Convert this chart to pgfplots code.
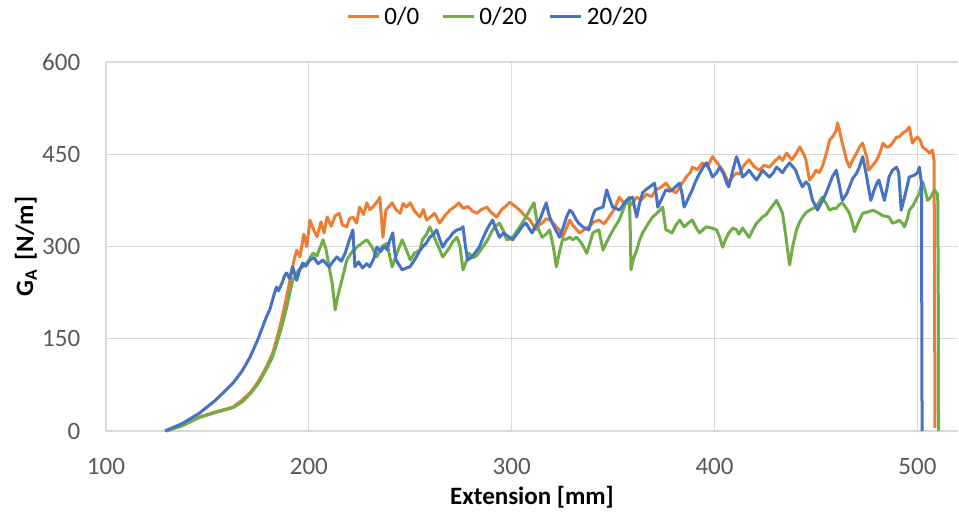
\documentclass[border=0pt]{standalone}
\usepackage{fontspec}
\setmainfont{Carlito}
\usepackage{pgfplots}
\pgfplotsset{compat=1.18}

\definecolor{cOrange}{HTML}{ED7D31}
\definecolor{cGreen}{HTML}{70AD47}
\definecolor{cBlue}{HTML}{4472C4}
\definecolor{gridgray}{HTML}{D9D9D9}
\definecolor{ticktext}{HTML}{595959}

\newcommand{\chartfont}{\fontsize{12.5}{15}\selectfont}

\begin{document}
\begin{tikzpicture}
\begin{axis}[
  scale only axis,
  width=426pt, height=184.5pt,
  xmin=100, xmax=520, ymin=0, ymax=600,
  xtick={100,200,...,500},
  ytick={0,150,...,600},
  grid=major,
  major grid style={color=gridgray, line width=0.6pt},
  axis line style={draw=none},
  major tick length=0pt,
  clip=false,
  /pgf/number format/assume math mode=true,
  tick label style={font=\chartfont, text=ticktext, inner sep=0pt},
  xticklabel style={anchor=north, yshift=-13.5pt},
  yticklabel style={anchor=east, xshift=-12.7pt},
  xlabel={\textbf{Extension [mm]}},
  ylabel={\textbf{G\textsubscript{A}\,\,[N/m]}},
  every axis x label/.style={at={(axis description cs:0.5,-0.179)}, anchor=center, font=\chartfont},
  every axis y label/.style={at={(axis description cs:-0.094,0.5)}, anchor=center, rotate=90, font=\chartfont},
  legend columns=-1,
  legend style={draw=none, fill=none, font=\chartfont,
    at={(axis description cs:0.461,1.122)}, anchor=center,
    /tikz/every even column/.append style={column sep=9pt},
    inner sep=0pt},
  legend image code/.code={\draw[#1, line width=1.5pt] (0pt,0pt) -- (15.5pt,0pt);},
  every axis plot/.append style={line width=1.5pt, line join=round},
]
\draw[color=gridgray, line width=0.75pt] (rel axis cs:0,0) -- (rel axis cs:1,0);

% 0/0
\addplot[color=cOrange] coordinates {
(130,0) (138,10) (146,23) (154,31) (162.6,39) (167,50) (171,62) (175,80) (179,104)
(182,125) (184,148) (186.5,180) (189,218) (191,250) (192.5,275) (194,294) (195.6,283)
(197.5,320) (199,300) (200.5,343) (202,330) (204,316) (206,340) (207.5,322) (209,348)
(211,333) (213,350) (215,354) (216.5,335) (218.7,332) (220,345) (221.7,348) (223.5,338)
(225,364) (227,352) (228.6,371) (230,360) (231.5,364) (233.5,372) (235,380) (236.5,315)
(238,359) (239.5,365) (241,371) (243,360) (245,354) (246.5,370) (248,364) (250,371)
(252,358) (254.7,348) (256.5,360) (258,343) (260,348) (262,354) (264.5,338) (267,350)
(269.5,359) (272,365) (274,371) (276,362) (278.5,365) (280.5,358) (282.8,354) (285,360)
(287.7,364) (290,355) (292.6,348) (295,360) (297,365) (299,372) (301.5,366) (304,359)
(306.5,350) (309,343) (312,327) (313.5,335) (315,338) (317,345) (318.7,343) (320.5,338)
(322,332) (324,325) (325,315) (327,330) (328.6,343) (330,335) (333.5,322) (336,328)
(338,332) (340.5,340) (343,343) (345.5,337) (348,348) (350.5,360) (353,380) (355,372)
(356.6,371) (359,368) (361.6,380) (364,376) (366.5,385) (369,381) (371,392) (373.5,396)
(376,403) (378.5,392) (381,387) (383.5,400) (386,413) (388,420) (389,429) (391.5,425)
(394,436) (396.5,430) (399,446) (401.5,435) (404,424) (406,410) (407,403) (409,414)
(410.8,419) (412.5,418) (413.8,429) (415.5,436) (417,441) (419.5,430) (422,424)
(424.5,432) (427,429) (429.5,438) (432,446) (433.5,440) (435.5,452) (438,441) (440,450)
(442,462) (444,450) (445,441) (446.8,408) (448.5,415) (450,424) (451.5,420) (453,429)
(455,450) (456.7,473) (458.5,480) (460,489) (460.6,501) (461.5,490) (462.6,473)
(464,455) (465,441) (466.5,429) (468,440) (470,452) (471.5,462) (473,468) (474,456)
(475,446) (476,424) (478,432) (480,441) (481.5,452) (483,468) (484.5,462) (486,462)
(487.7,468) (489.7,478) (491,478) (493,485) (494.5,488) (496,494) (497.5,468) (499,475)
(500,478) (501.5,472) (502.5,462) (504,458) (506,452) (507.4,457) (508.2,440)
(508.5,200) (508.6,5)
};
\addlegendentry{0/0}

% 0/20
\addplot[color=cGreen] coordinates {
(130,0) (138,9) (146,22) (154,30) (162.6,38) (167,47) (171,60) (175,77) (179,100)
(182,120) (184,140) (186.5,168) (189,200) (192,245) (195,262) (197,267) (199,273)
(202,289) (204,285) (207,311) (208.5,295) (210,267) (211.5,240) (213,197) (214,215)
(215,229) (217,255) (218.7,278) (221,290) (223.6,299) (226,305) (228.6,311) (231,300)
(233.5,283) (236,300) (238.5,305) (241,267) (243.5,290) (246,311) (248,295) (250,278)
(252,289) (254.7,294) (256,311) (258,320) (259.6,332) (261.5,318) (263,306) (264.5,295)
(266,283) (268,292) (269.5,299) (271,308) (273,315) (274.5,300) (276,262) (277.5,275)
(279,289) (281,282) (283,286) (285.7,299) (288,310) (290.6,327) (292,333) (294,338)
(296,325) (297.5,311) (299,312) (300.5,315) (302.5,325) (304,332) (305.5,340) (307,348)
(309,360) (311,371) (312,350) (312.8,332) (314,322) (315,315) (317,320) (318.7,327)
(320.5,300) (322,267) (323.5,290) (325,311) (327,312) (328.6,315) (330,311) (332,315)
(334.5,305) (337,289) (338.5,305) (340,322) (341.5,325) (343,327) (344,310) (345,294)
(346.5,305) (348,315) (350.5,330) (353,343) (355,360) (356.6,375) (358,380) (358.5,320)
(358.8,262) (360,280) (361.6,294) (363,310) (364.5,322) (367,336) (369.5,348)
(371.5,354) (373,359) (374.4,364) (375.2,345) (376,327) (377.5,325) (379,322) (381,335)
(382.8,343) (385,332) (387,338) (389,343) (391,330) (392.6,322) (394.5,328) (396,332)
(398.5,330) (401,327) (402.5,315) (404,299) (405.5,312) (407,322) (409,330) (410.8,327)
(412,320) (413.8,330) (415.5,322) (417,315) (419,328) (420.7,338) (422,342) (423.6,348)
(425.5,352) (427,359) (429,368) (430.5,375) (432,365) (433.5,354) (435,320) (436,294)
(437,270) (438.5,300) (440.4,327) (442,340) (443.4,348) (445,355) (446.8,359)
(448.5,362) (450,364) (451.5,372) (453,380) (455,370) (456.7,359) (458.5,362) (460,362)
(461.5,368) (463,371) (465,362) (466.5,354) (468,338) (469,324) (471,340) (473,354)
(475.5,356) (478,359) (480,356) (483,350) (486,348) (487.7,338) (489.7,340) (491,343)
(492.5,338) (493.6,332) (495,345) (496,359) (497.5,365) (499,374) (501,387) (502,400)
(502.5,405) (503.5,395) (505,375) (506.5,380) (508.4,392) (510,384) (510.3,200)
(510.4,0)
};
\addlegendentry{0/20}

% 20/20
\addplot[color=cBlue] coordinates {
(129,0) (137.5,12) (146,29) (154,50) (162.6,78) (167,97) (171,120) (175,150) (179,185)
(180.8,198) (182.5,218) (184,234) (185,228) (186.7,240) (188,252) (189,257) (190.5,248)
(192,267) (194,245) (195.5,262) (197,273) (198.5,268) (200.5,278) (202.5,282)
(204.5,272) (207,278) (208.5,272) (210,267) (212,276) (213.8,283) (216,276) (218,290)
(220,311) (221.7,327) (222.7,267) (224.5,275) (226.5,265) (228.5,272) (230,267)
(232,280) (233.5,299) (235.5,292) (237,300) (238.5,295) (240,311) (241.4,322) (242,300)
(243,278) (244.5,270) (246,262) (248,265) (249.8,267) (251.5,275) (253,283) (254.5,292)
(256,299) (258,306) (259.6,315) (261.5,320) (263,327) (264.5,312) (266,299) (268,310)
(269.5,315) (271,322) (273,327) (274.5,328) (276,332) (277.2,300) (278.3,278) (280,282)
(282,290) (284,299) (286,315) (287.7,327) (289,335) (290.6,343) (292,330) (294,315)
(296,322) (297.5,318) (299,315) (300.5,311) (302,318) (304,327) (305.5,334) (307,338)
(308.5,330) (310,322) (312,335) (313.8,343) (315.5,358) (317,371) (318.5,350) (320,338)
(322,325) (323.6,315) (325.5,332) (327,348) (328.6,359) (330,355) (331.5,345) (333,338)
(335,332) (338,327) (339.5,345) (341,359) (343,362) (345,364) (346.8,392) (348.5,375)
(349.8,364) (351.5,362) (353,359) (355,368) (356.6,375) (358,378) (359.6,380)
(360.5,365) (361.6,348) (363,370) (364.5,387) (366,392) (368,397) (370.4,403)
(371.2,385) (372,364) (374,378) (376,392) (378,390) (379.5,393) (381,398) (382.8,403)
(384,385) (385,364) (387,378) (389,392) (390.5,405) (392.6,419) (394.5,430) (396,436)
(397.5,425) (399,413) (401,420) (402.5,429) (404.5,418) (406,403) (407,397) (408,410)
(409,424) (410.8,446) (412,435) (413.8,413) (415.5,418) (417,424) (419,415) (420.7,408)
(422,415) (423.6,424) (425.5,418) (427,413) (429,420) (430.5,429) (432,425) (433.5,420)
(435,428) (437,436) (438.5,430) (440,424) (441.5,410) (443.3,397) (445,405) (446.5,400)
(448.3,375) (450,365) (450.7,359) (452.5,370) (455,387) (456.5,400) (458,413) (460,424)
(461.5,400) (463,375) (465,385) (466.5,397) (468,410) (470,419) (471.5,430) (473,446)
(474,430) (475,413) (477,375) (478.5,390) (480,403) (481,408) (482.5,390) (483.7,375)
(485,395) (486,413) (487.7,424) (489.7,429) (490.8,420) (492,359) (494,385) (496,413)
(498.5,416) (500,420) (501,429) (501.5,415) (502,403) (502.2,100) (502.3,0)
};
\addlegendentry{20/20}
\end{axis}
\pgfresetboundingbox
\useasboundingbox (-53pt,-44.5pt) rectangle (426.5pt,215.5pt);
\end{tikzpicture}
\end{document}
